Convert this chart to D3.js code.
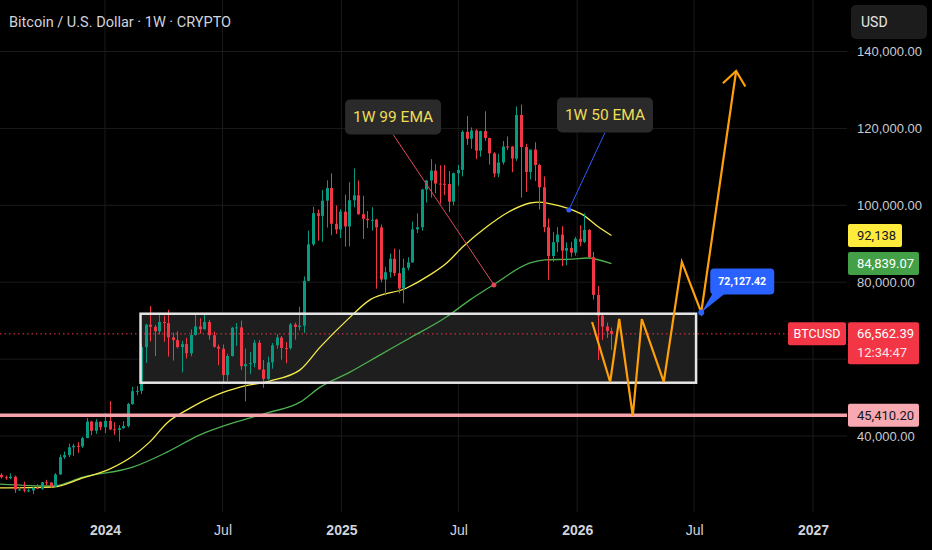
<!DOCTYPE html>
<html>
<head>
<meta charset="utf-8">
<script src="https://cdn.jsdelivr.net/npm/d3@7"></script>
<style>
  body { margin: 0; background: #000; }
  svg { display: block; font-family: Roboto, "Noto Sans", sans-serif; }
</style>
</head>
<body>
<svg id="chart"></svg>
<script>
// weekly candles (thousands of USD), first bar opens on this Monday
const firstWeek = "2023-07-24";
const opens = [
  29.9, 29.28, 29.05, 29.4, 26.1, 26.1, 25.8, 25.85, 26.55, 26.3, 27.97, 27.9,
  26.85, 29.99, 34.5, 35.03, 37.06, 37.45, 37.3, 39.45, 43.75, 41.35, 43.7,
  42.28, 43.93, 41.73, 41.58, 42.03, 42.58, 48.3, 51.66, 51.73, 63.11, 68.95, 68.4,
  67.21, 69.65, 69.36, 65.66, 64.94, 63.12, 63.9, 61.5, 66.27, 68.5, 67.75, 69.65,
  66.2, 63.2, 62.7, 55.85, 60.8, 68.15, 68.25, 58.15, 58.7, 58.95, 64.25, 57.3,
  54.85, 59.15, 63.6, 65.6, 62.9, 62.85, 69.0, 68.35, 68.7, 80.35, 89.85, 97.95,
  97.25, 101.2, 104.5, 95.2, 93.7,
  98.35, 94.5, 101.3, 102.6, 97.7, 96.5, 96.15, 96.25, 94.25, 80.7, 82.6, 86.1,
  82.35, 78.35, 83.75, 85.15, 93.75, 94.3, 104.1, 106.45, 109.0, 105.65, 105.6,
  105.55, 100.95, 108.35, 109.2, 119.1, 117.3, 119.45, 114.2, 119.3, 117.5, 113.5,
  108.25, 111.15, 115.3, 115.25, 112.15, 123.5, 115.15, 108.65, 114.5, 110.5,
  104.7, 94.3, 86.8, 90.4, 92.4, 88.2, 88.9, 87.7,
  91.3, 90.5, 93.6, 86.5, 76.7, 71.3, 68.5, 67.3
];
const highs = [
  30.35, 29.7, 30.25, 29.7, 26.8, 28.15, 26.4, 26.85, 27.45, 28.05, 28.6, 27.99,
  30.35, 35.2, 35.95, 37.98, 38.0, 38.4, 39.8, 44.7, 43.95, 44.4, 43.8,
  45.9, 49.05, 43.58, 42.85, 43.88, 48.6, 52.8, 52.98, 64.0, 69.2, 73.8, 68.9,
  71.75, 71.3, 72.8, 66.9, 67.25, 64.75, 65.5, 67.7, 71.95, 70.6, 71.95, 70.2,
  67.2, 63.8, 63.8, 61.4, 68.35, 69.4, 70.0, 62.75, 61.8, 65.0, 64.95, 59.8,
  60.65, 64.15, 66.5, 66.0, 64.45, 69.4, 69.5, 73.6, 81.5, 93.45, 99.6, 98.9,
  104.0, 106.5, 108.3, 99.95, 99.0,
  102.75, 106.0, 109.6, 106.45, 102.5, 98.5, 99.5, 96.5, 95.0, 84.0, 87.45, 88.75,
  88.5, 86.1, 86.5, 95.75, 97.9, 104.3, 106.6, 112.0, 110.7, 110.4, 110.5,
  108.9, 108.5, 110.5, 119.5, 123.2, 120.25, 119.8, 119.4, 124.45, 117.6, 113.8,
  113.4, 116.7, 117.9, 115.4, 125.7, 126.2, 116.0, 114.0, 116.4, 110.8,
  107.5, 96.6, 93.1, 94.3, 94.6, 90.4, 90.5, 91.8,
  94.8, 97.9, 93.8, 87.9, 79.0, 72.0, 69.5, 68.2
];
const lows = [
  28.9, 28.6, 28.75, 25.2, 25.8, 25.35, 25.4, 24.9, 26.35, 26.0, 27.2, 26.55,
  26.8, 29.9, 34.0, 34.5, 34.8, 35.65, 36.9, 39.45, 40.2, 40.55, 41.5,
  40.75, 41.5, 40.3, 38.55, 41.9, 42.25, 48.15, 50.6, 50.9, 59.0, 64.6, 60.8,
  66.4, 64.5, 60.65, 59.6, 62.8, 56.55, 60.15, 60.75, 66.1, 66.6, 67.75, 65.05,
  63.0, 58.4, 53.5, 54.3, 60.65, 63.45, 57.2, 49.0, 56.1, 57.85, 57.2, 52.55,
  54.55, 57.5, 62.7, 59.85, 58.9, 62.45, 65.05, 67.45, 66.8, 80.2, 89.4, 90.8,
  90.5, 94.2, 92.2, 92.55, 91.5,
  89.25, 89.3, 99.5, 97.5, 91.25, 94.1, 93.4, 78.3, 80.0, 76.6, 81.2, 81.6,
  77.1, 74.5, 83.1, 85.1, 92.8, 93.4, 100.7, 102.0, 103.1, 100.4, 102.6,
  98.2, 100.0, 105.1, 107.5, 115.7, 114.7, 112.0, 112.65, 116.8, 110.6, 107.3,
  107.3, 110.6, 114.4, 108.6, 111.55, 102.0, 103.5, 106.7, 106.3, 98.9,
  93.0, 80.6, 85.3, 87.8, 84.2, 84.4, 86.6, 86.9,
  89.3, 90.2, 86.0, 75.5, 59.8, 65.0, 65.5, 62.4
];
const closes = [
  29.28, 29.05, 29.4, 26.1, 26.1, 25.8, 25.85, 26.55, 26.3, 27.97, 27.9, 26.85,
  29.99, 34.5, 35.03, 37.06, 37.45, 37.3, 39.45, 43.75, 41.35, 43.7, 42.28,
  43.93, 41.73, 41.58, 42.03, 42.58, 48.3, 51.66, 51.73, 63.11, 68.95, 68.4, 67.21,
  69.65, 69.36, 65.66, 64.94, 63.12, 63.9, 61.5, 66.27, 68.5, 67.75, 69.65, 66.2,
  63.2, 62.7, 55.85, 60.8, 68.15, 68.25, 58.15, 58.7, 58.95, 64.25, 57.3, 54.85,
  59.15, 63.6, 65.6, 62.9, 62.85, 69.0, 68.35, 68.7, 80.35, 89.85, 97.95, 97.25,
  101.2, 104.5, 95.2, 93.7, 98.35,
  94.5, 101.3, 102.6, 97.7, 96.5, 96.15, 96.25, 94.25, 80.7, 82.6, 86.1, 82.35,
  78.35, 83.75, 85.15, 93.75, 94.3, 104.1, 106.45, 109.0, 105.65, 105.6, 105.55,
  100.95, 108.35, 109.2, 119.1, 117.3, 119.45, 114.2, 119.3, 117.5, 113.5, 108.25,
  111.15, 115.3, 115.25, 112.15, 123.5, 115.15, 108.65, 114.5, 110.5, 104.7,
  94.3, 86.8, 90.4, 92.4, 88.2, 88.9, 87.7, 91.3,
  90.5, 93.6, 86.5, 76.7, 71.3, 68.5, 67.3, 66.56239
];

// moving averages
const ema50Dates = ["2023-07-22", "2023-10-12", "2023-11-28", "2024-01-08", "2024-02-13", "2024-03-10",
  "2024-04-06", "2024-05-07", "2024-06-22", "2024-07-28", "2024-09-12", "2024-10-29", "2024-11-29",
  "2025-01-10", "2025-02-14", "2025-04-12", "2025-05-18", "2025-06-13", "2025-07-08", "2025-08-14",
  "2025-09-14", "2025-10-20", "2025-11-04", "2025-11-28", "2025-12-21", "2026-01-10", "2026-02-01", "2026-02-23"];
const ema50Values = [26.5, 26.7, 29.1, 31.4, 34.8, 38.4, 43.4, 46.8, 50.7, 52.7, 54.3, 57.2, 63.1,
  70.2, 75.4, 78.5, 81.9, 85.0, 89.2, 94.4, 98.0, 100.6, 100.85, 100.1, 99.0, 97.5, 94.6, 92.138];
const ema99Dates = ["2023-07-22", "2023-10-12", "2023-11-28", "2024-02-13", "2024-04-06", "2024-05-27",
  "2024-07-17", "2024-09-08", "2024-10-29", "2024-11-29", "2025-01-14", "2025-03-02", "2025-04-17",
  "2025-06-13", "2025-07-19", "2025-08-24", "2025-10-20", "2025-11-12", "2025-12-25", "2026-01-16", "2026-02-23"];
const ema99Values = [27.5, 27.0, 29.3, 31.9, 35.8, 40.3, 43.4, 46.0, 48.8, 52.7, 56.6, 61.1, 65.5,
  71.0, 75.4, 79.3, 85.0, 85.8, 86.0, 86.3, 84.83907];

// axes (60k sits under the last-price tag, so it only gets a grid line)
const timeTicks = ["2024-01-01", "2024-07-01", "2025-01-01", "2025-07-01", "2026-01-01", "2026-07-01", "2027-01-01"];
const timeTickLabels = ["2024", "Jul", "2025", "Jul", "2026", "Jul", "2027"];
const priceGrid = [140, 120, 100, 80, 60, 40];
const priceTicks = [140, 120, 100, 80, 40];

// drawings
const boxDates = ["2024-02-25", "2026-07-04"];
const boxPrices = [71.8, 53.86];
const supportLevel = 45.4102;
const lastPrice = 66.56239;
const projDates = ["2026-01-24", "2026-02-21", "2026-03-07", "2026-03-28", "2026-04-11",
  "2026-05-15", "2026-06-12", "2026-07-12", "2026-09-04"];
const projPrices = [69.65, 54.05, 70.43, 45.2, 70.43, 54.05, 85.27, 72.12742, 134.93];
const noteTexts = ["1W 99 EMA", "1W 50 EMA"];
const noteBoxDates = ["2025-03-22", "2026-02-13"];
const noteBoxPrices = [122.97, 123.49];
const noteTargetDates = ["2025-08-25", "2025-12-19"];
const noteTargetPrices = [79.3, 98.78];
const noteColors = ["#e0485a", "#2f5bff"];

const svgWidth = 932;
const svgHeight = 550;
const plotRight = 847;
const plotBottom = 512;
const fmt2 = d3.format(",.2f");
const parse = d3.utcParse("%Y-%m-%d");

const x = d3.scaleUtc().domain([parse("2024-01-01"), parse("2027-01-01")]).range([105, 813]);
const y = d3.scaleLinear().domain([40, 140]).range([436, 51.5]);

const svg = d3.select("#chart").attr("width", svgWidth).attr("height", svgHeight);
svg.append("rect").attr("width", svgWidth).attr("height", svgHeight).attr("fill", "#000");

// grid
svg.append("g").selectAll("line").data(priceGrid).join("line")
  .attr("x1", 0).attr("x2", plotRight)
  .attr("y1", d => y(d)).attr("y2", d => y(d))
  .attr("stroke", "#1b1b1b");
svg.append("g").selectAll("line").data(timeTicks).join("line")
  .attr("x1", d => x(parse(d))).attr("x2", d => x(parse(d)))
  .attr("y1", 0).attr("y2", plotBottom)
  .attr("stroke", "#1b1b1b");

// x-axis
const xAxis = svg.append("g")
  .attr("transform", `translate(0, ${plotBottom + 7})`)
  .call(d3.axisBottom(x)
    .tickValues(timeTicks.map(parse))
    .tickFormat((d, i) => timeTickLabels[i])
    .tickSize(0).tickPadding(6));
xAxis.select(".domain").remove();
xAxis.selectAll("text")
  .attr("fill", "#d1d4dc")
  .style("font-size", "14px")
  .style("font-weight", (d, i) => timeTickLabels[i] === "Jul" ? 400 : 600);

// y-axis
const yAxis = svg.append("g")
  .attr("transform", `translate(857, 0)`)
  .call(d3.axisRight(y).tickValues(priceTicks).tickFormat(d => fmt2(d * 1000)).tickSize(0).tickPadding(0));
yAxis.select(".domain").remove();
yAxis.selectAll("text").attr("fill", "#c9cbd1").style("font-size", "13px");

// range box fill
const bx0 = x(parse(boxDates[0])), bx1 = x(parse(boxDates[1]));
const by0 = y(boxPrices[0]), by1 = y(boxPrices[1]);
svg.append("rect")
  .attr("x", bx0).attr("y", by0)
  .attr("width", bx1 - bx0).attr("height", by1 - by0)
  .attr("fill", "#1e1e1e");

// last price dotted line
svg.append("line")
  .attr("x1", 0).attr("x2", 788)
  .attr("y1", y(lastPrice)).attr("y2", y(lastPrice))
  .attr("stroke", "#f23645").attr("stroke-width", 1)
  .attr("stroke-dasharray", "1.5,3");

// EMAs
const emaLine = d3.line().x(d => x(d.date)).y(d => y(d.v)).curve(d3.curveMonotoneX);
const ema99 = ema99Dates.map((d, i) => ({ date: parse(d), v: ema99Values[i] }));
const ema50 = ema50Dates.map((d, i) => ({ date: parse(d), v: ema50Values[i] }));
svg.append("path").datum(ema99).attr("d", emaLine)
  .attr("fill", "none").attr("stroke", "#4caf50").attr("stroke-width", 1.3);
svg.append("path").datum(ema50).attr("d", emaLine)
  .attr("fill", "none").attr("stroke", "#f5ea4b").attr("stroke-width", 1.3);

// candles
const start = parse(firstWeek);
const candles = opens.map((o, i) => ({
  date: d3.utcDay.offset(start, 7 * i),
  o: o, h: highs[i], l: lows[i], c: closes[i]
}));
const upColor = "#089981", downColor = "#f23645";
const cg = svg.append("g");
cg.selectAll("line").data(candles).join("line")
  .attr("x1", d => Math.round(x(d.date)) + 0.5).attr("x2", d => Math.round(x(d.date)) + 0.5)
  .attr("y1", d => y(d.h)).attr("y2", d => y(d.l))
  .attr("stroke", d => d.c >= d.o ? upColor : downColor).attr("stroke-width", 1);
cg.selectAll("rect").data(candles).join("rect")
  .attr("x", d => Math.round(x(d.date)) - 1)
  .attr("y", d => y(Math.max(d.o, d.c)))
  .attr("width", 3)
  .attr("height", d => Math.max(1, Math.abs(y(d.o) - y(d.c))))
  .attr("fill", d => d.c >= d.o ? upColor : downColor);

// range box border
svg.append("rect")
  .attr("x", bx0).attr("y", by0)
  .attr("width", bx1 - bx0).attr("height", by1 - by0)
  .attr("fill", "none").attr("stroke", "#e6e6e6").attr("stroke-width", 2.5);

// support line
svg.append("line")
  .attr("x1", 0).attr("x2", plotRight)
  .attr("y1", y(supportLevel)).attr("y2", y(supportLevel))
  .attr("stroke", "#f4a3ab").attr("stroke-width", 3.5);

// annotations
noteTexts.forEach((t, i) => {
  const cx = x(parse(noteBoxDates[i])), cy = y(noteBoxPrices[i]);
  const tx = x(parse(noteTargetDates[i])), ty = y(noteTargetPrices[i]);
  const w = 96, h = 35;
  svg.append("line")
    .attr("x1", cx).attr("y1", cy + h / 2)
    .attr("x2", tx).attr("y2", ty)
    .attr("stroke", noteColors[i]).attr("stroke-width", 1);
  svg.append("circle").attr("cx", tx).attr("cy", ty).attr("r", 2.5).attr("fill", noteColors[i]);
  svg.append("rect")
    .attr("x", cx - w / 2).attr("y", cy - h / 2)
    .attr("width", w).attr("height", h).attr("rx", 5)
    .attr("fill", "#2a2a2a");
  svg.append("text")
    .attr("x", cx).attr("y", cy + 5.5)
    .attr("text-anchor", "middle")
    .attr("fill", "#f0dd55")
    .style("font-size", "15.5px")
    .text(t);
});

// projection path
const proj = projDates.map((d, i) => [x(parse(d)), y(projPrices[i])]);
svg.append("path")
  .attr("d", d3.line()(proj))
  .attr("fill", "none").attr("stroke", "#ff9f0a").attr("stroke-width", 2.2)
  .attr("stroke-linejoin", "miter");
const tip = proj[proj.length - 1], prev = proj[proj.length - 2];
const ang = Math.atan2(prev[1] - tip[1], prev[0] - tip[0]);
const wing = 18, spread = 39 * Math.PI / 180;
svg.append("path")
  .attr("d", d3.line()([
    [tip[0] + wing * Math.cos(ang + spread), tip[1] + wing * Math.sin(ang + spread)],
    tip,
    [tip[0] + wing * Math.cos(ang - spread), tip[1] + wing * Math.sin(ang - spread)]
  ]))
  .attr("fill", "none").attr("stroke", "#ff9f0a").attr("stroke-width", 2.2);

// price callout
const calloutPt = proj[proj.length - 2];
const cbx = calloutPt[0] + 9, cby = calloutPt[1] - 44;
svg.append("path")
  .attr("d", `M${cbx + 3},${cby + 24} L${calloutPt[0]},${calloutPt[1]} L${cbx + 16},${cby + 24} Z`)
  .attr("fill", "#2962ff");
svg.append("rect")
  .attr("x", cbx).attr("y", cby).attr("width", 64).attr("height", 26).attr("rx", 4)
  .attr("fill", "#2962ff");
svg.append("circle").attr("cx", calloutPt[0]).attr("cy", calloutPt[1]).attr("r", 3).attr("fill", "#2962ff");
svg.append("text")
  .attr("x", cbx + 32).attr("y", cby + 17)
  .attr("text-anchor", "middle").attr("fill", "#fff")
  .style("font-size", "10.5px").style("font-weight", 700)
  .text(fmt2(projPrices[projPrices.length - 2] * 1000));

// axis price tags
function priceTag(value, label, bg, fg, w) {
  const cy = y(value);
  svg.append("rect")
    .attr("x", 848).attr("y", cy - 11.5).attr("width", w).attr("height", 23).attr("rx", 2)
    .attr("fill", bg);
  svg.append("text")
    .attr("x", 857).attr("y", cy + 4.5)
    .attr("fill", fg).style("font-size", "13px")
    .text(label);
}
priceTag(ema50Values[ema50Values.length - 1], d3.format(",.0f")(ema50Values[ema50Values.length - 1] * 1000), "#ffeb3b", "#131722", 54);
priceTag(ema99Values[ema99Values.length - 1], fmt2(ema99Values[ema99Values.length - 1] * 1000), "#43a047", "#ffffff", 71);
priceTag(supportLevel, fmt2(supportLevel * 1000), "#f7a8b0", "#131722", 71);

// last price tag with countdown
const ly = y(lastPrice);
svg.append("rect")
  .attr("x", 848).attr("y", ly - 11.5).attr("width", 71).attr("height", 42).attr("rx", 2)
  .attr("fill", "#f23645");
svg.append("text").attr("x", 857).attr("y", ly + 4.5)
  .attr("fill", "#fff").style("font-size", "13px").text(fmt2(lastPrice * 1000));
svg.append("text").attr("x", 857).attr("y", ly + 23)
  .attr("fill", "#fde3e6").style("font-size", "13px").text("12:34:47");
svg.append("rect")
  .attr("x", 788).attr("y", ly - 11.5).attr("width", 58).attr("height", 23).attr("rx", 2)
  .attr("fill", "#f23645");
svg.append("text").attr("x", 817).attr("y", ly + 4.5)
  .attr("text-anchor", "middle").attr("fill", "#fff").style("font-size", "12.5px").text("BTCUSD");

// currency button
svg.append("rect")
  .attr("x", 851).attr("y", 5).attr("width", 76).attr("height", 34).attr("rx", 5)
  .attr("fill", "#1c1c1c");
svg.append("text").attr("x", 861).attr("y", 27)
  .attr("fill", "#e6e6e6").style("font-size", "14px").text("USD");

// title
svg.append("text")
  .attr("x", 9).attr("y", 27)
  .attr("fill", "#d1d4dc")
  .style("font-size", "14.5px").style("font-weight", 400)
  .text("Bitcoin / U.S. Dollar · 1W · CRYPTO");
</script>
</body>
</html>
